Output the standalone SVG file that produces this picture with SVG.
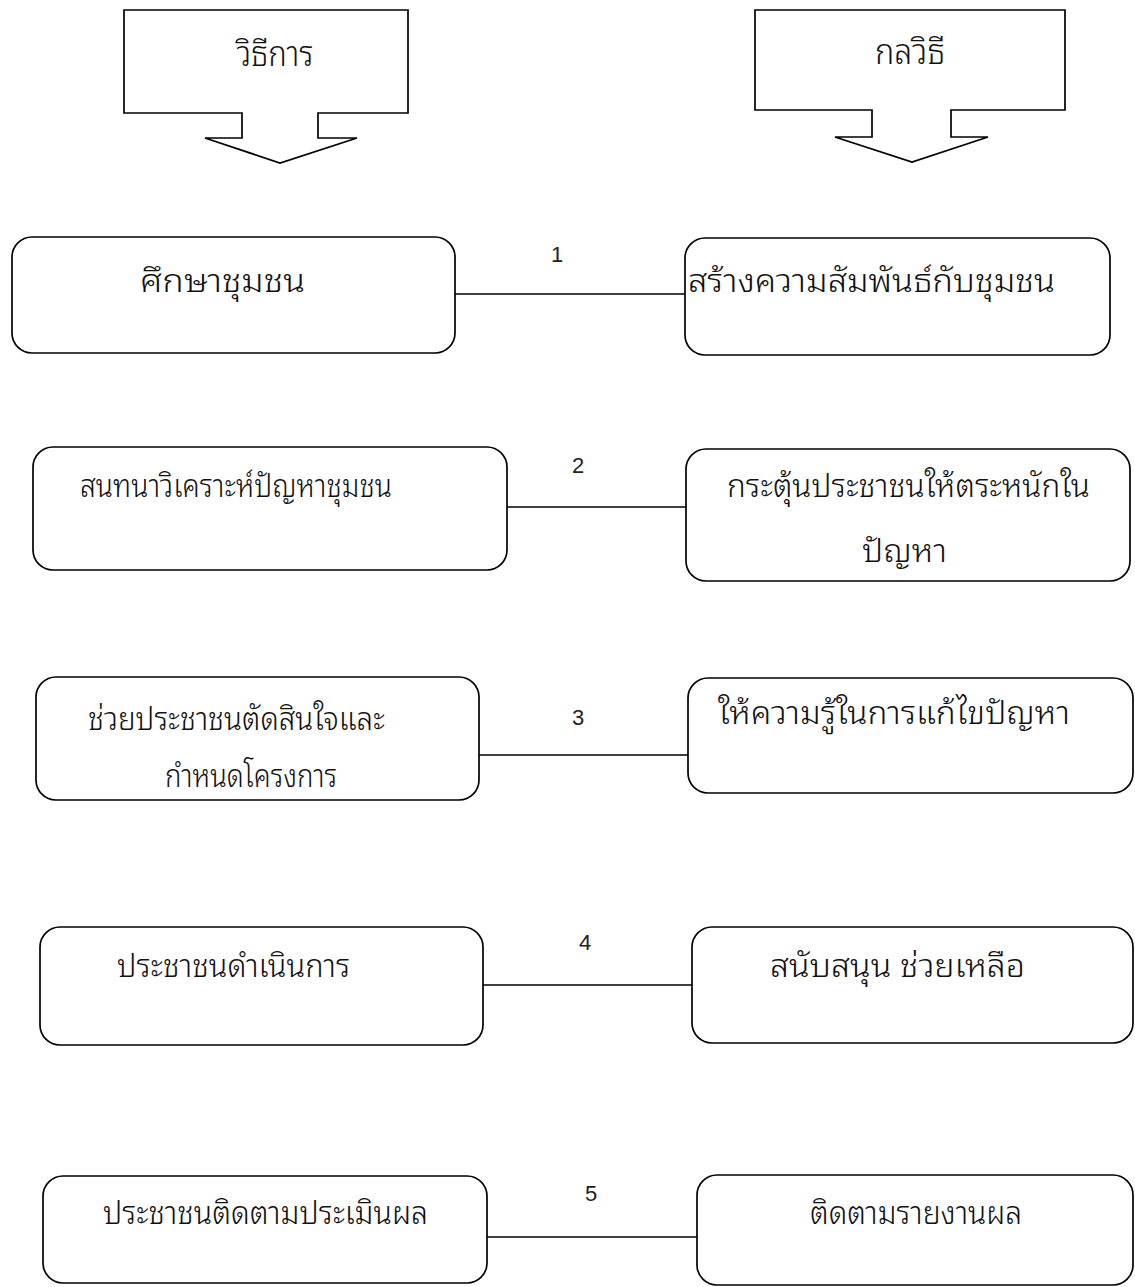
<svg xmlns="http://www.w3.org/2000/svg" width="1135" height="1287" viewBox="0 0 1135 1287">
<style>
.box{fill:#fff;stroke:#000;stroke-width:1.7}
.call{fill:#fff;stroke:#000;stroke-width:1.7;stroke-linejoin:miter}
.t{font-family:"Noto Sans Thai Looped","Noto Serif Thai","Noto Sans Thai","Noto Sans","DejaVu Sans",sans-serif;font-size:32px;font-weight:300;fill:#111}
.h{font-family:"Noto Sans Thai Looped","Noto Serif Thai","Noto Sans Thai","Noto Sans","DejaVu Sans",sans-serif;font-size:35px;font-weight:300;fill:#111;text-anchor:middle}
.n{font-family:"Liberation Sans",Arial,sans-serif;font-size:22px;fill:#222;text-anchor:middle}
.c{stroke:#000;stroke-width:1.7;fill:none}
</style>
<rect width="1135" height="1287" fill="#fff"/>
<g id="header-left">
<path class="call" d="M124,10 H408 V113 H318 V138 H357 L280,163 L205,138 H242 V113 H124 Z"/>
<text class="h" x="275" y="66" textLength="77" lengthAdjust="spacingAndGlyphs">วิธีการ</text>
</g>
<g id="header-right">
<path class="call" d="M755,10 H1065 V110 H951 V137 H988 L912,162 L835,137 H872 V110 H755 Z"/>
<text class="h" x="910" y="64" textLength="70" lengthAdjust="spacingAndGlyphs">กลวิธี</text>
</g>
<g id="connectors">
<line class="c" x1="455" y1="294" x2="685" y2="294"/>
<line class="c" x1="507" y1="507" x2="686" y2="507"/>
<line class="c" x1="479" y1="755" x2="688" y2="755"/>
<line class="c" x1="483" y1="985" x2="692" y2="985"/>
<line class="c" x1="487" y1="1237" x2="697" y2="1237"/>
<text class="n" x="557" y="262">1</text>
<text class="n" x="578" y="473">2</text>
<text class="n" x="578" y="725">3</text>
<text class="n" x="585" y="950">4</text>
<text class="n" x="591" y="1201">5</text>
</g>
<g id="l1"><rect class="box" x="12" y="237" width="443" height="116" rx="20"/><text class="t" x="140" y="292" textLength="165" lengthAdjust="spacingAndGlyphs">ศึกษาชุมชน</text></g>
<g id="r1"><rect class="box" x="685" y="238" width="425" height="117" rx="20"/><text class="t" x="688" y="292" textLength="367" lengthAdjust="spacingAndGlyphs">สร้างความสัมพันธ์กับชุมชน</text></g>
<g id="l2"><rect class="box" x="33" y="447" width="474" height="123" rx="20"/><text class="t" x="80" y="497" textLength="312" lengthAdjust="spacingAndGlyphs">สนทนาวิเคราะห์ปัญหาชุมชน</text></g>
<g id="r2"><rect class="box" x="686" y="449" width="444" height="132" rx="20"/><text class="t" x="727" y="497" textLength="363" lengthAdjust="spacingAndGlyphs">กระตุ้นประชาชนให้ตระหนักใน</text><text class="t" x="862" y="562" textLength="85" lengthAdjust="spacingAndGlyphs">ปัญหา</text></g>
<g id="l3"><rect class="box" x="36" y="677" width="443" height="123" rx="20"/><text class="t" x="88" y="730" textLength="297" lengthAdjust="spacingAndGlyphs">ช่วยประชาชนตัดสินใจและ</text><text class="t" x="165" y="787" textLength="172" lengthAdjust="spacingAndGlyphs">กำหนดโครงการ</text></g>
<g id="r3"><rect class="box" x="688" y="678" width="445" height="115" rx="20"/><text class="t" x="718" y="724" textLength="352" lengthAdjust="spacingAndGlyphs">ให้ความรู้ในการแก้ไขปัญหา</text></g>
<g id="l4"><rect class="box" x="40" y="927" width="443" height="118" rx="20"/><text class="t" x="117" y="977" textLength="233" lengthAdjust="spacingAndGlyphs">ประชาชนดำเนินการ</text></g>
<g id="r4"><rect class="box" x="692" y="927" width="441" height="116" rx="20"/><text class="t" x="770" y="977" textLength="255" lengthAdjust="spacingAndGlyphs">สนับสนุน ช่วยเหลือ</text></g>
<g id="l5"><rect class="box" x="43" y="1176" width="444" height="107" rx="20"/><text class="t" x="103" y="1224" textLength="325" lengthAdjust="spacingAndGlyphs">ประชาชนติดตามประเมินผล</text></g>
<g id="r5"><rect class="box" x="697" y="1175" width="436" height="110" rx="20"/><text class="t" x="810" y="1224" textLength="212" lengthAdjust="spacingAndGlyphs">ติดตามรายงานผล</text></g>
</svg>
